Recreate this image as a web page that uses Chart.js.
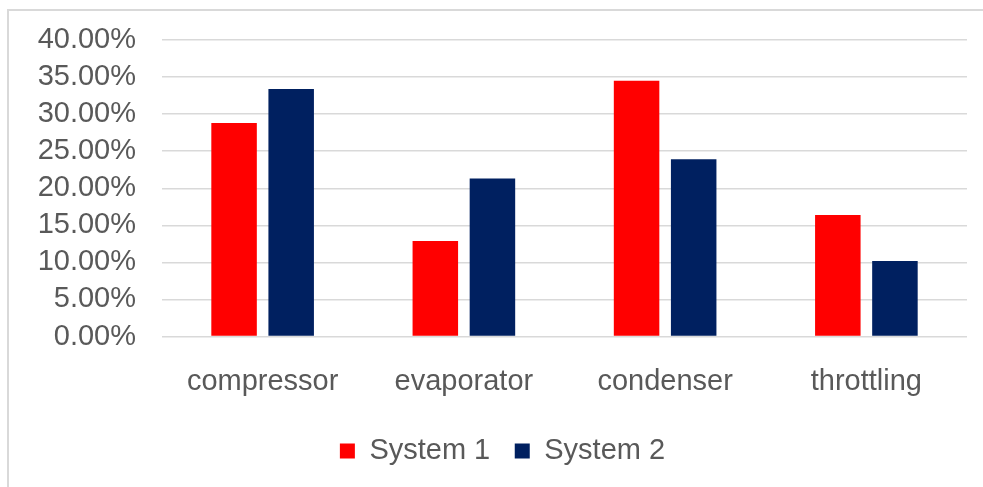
<!DOCTYPE html>
<html>
<head>
<meta charset="utf-8">
<script src="https://cdn.jsdelivr.net/npm/chart.js@4.4.1/dist/chart.umd.min.js"></script>
<style>
  html, body { margin: 0; padding: 0; background: #fff; overflow: hidden; width: 983px; height: 487px; }
  #frame { position: absolute; left: 7px; top: 9px; border-left: 2px solid #d9d9d9; border-top: 2px solid #d9d9d9; width: 1000px; height: 500px; }
  #loss { display: block; }
</style>
</head>
<body>
<div id="frame"><canvas id="loss" width="994" height="480"></canvas></div>
<script>
const components = ["compressor", "evaporator", "condenser", "throttling"];
const system1 = [0.288, 0.129, 0.345, 0.164];
const system2 = [0.334, 0.213, 0.239, 0.102];
const yTicks = [0, 0.05, 0.10, 0.15, 0.20, 0.25, 0.30, 0.35, 0.40];

// nudge the legend to the right, the original is centred on a wider frame
const legendShift = {
  id: "legendShift",
  afterLayout(chart) {
    chart.legend.left += 14.5;
    chart.legend.right += 14.5;
  },
};

showChart_loss();
function showChart_loss() {
  const ctx = document.getElementById("loss");
  const font = { family: "'Liberation Sans', Arial, sans-serif", size: 29 };
  new Chart(ctx, {
    type: "bar",
    data: {
      labels: components,
      datasets: [
        { label: "System 1", data: system1, backgroundColor: "#ff0000", borderWidth: 0 },
        { label: "System 2", data: system2, backgroundColor: "#002060", borderWidth: 0 },
      ],
    },
    options: {
      responsive: false,
      animation: false,
      categoryPercentage: 0.5675,
      barPercentage: 0.797,
      layout: { padding: { top: 29, right: 36, bottom: 15.5, left: 0 } },
      plugins: {
        tooltip: { enabled: false },
        legend: {
          position: "bottom",
          labels: { font: font, color: "#595959", boxWidth: 15, boxHeight: 15, padding: 24.5 },
        },
      },
      scales: {
        x: {
          grid: { display: false, drawTicks: false },
          border: { display: false },
          ticks: { font: font, color: "#595959", padding: 28 },
          afterFit: (s) => { s.height = 75.5; },
        },
        y: {
          min: 0,
          max: 0.4,
          afterBuildTicks: (s) => { s.ticks = yTicks.map((v) => ({ value: v })); },
          grid: { color: "#d9d9d9", lineWidth: 1.5, drawTicks: false },
          border: { display: false },
          ticks: {
            font: font,
            color: "#595959",
            padding: 26,
            autoSkip: false,
            callback: (v) => (v * 100).toFixed(2) + "%",
          },
          afterFit: (s) => {
            s.width = 153;
            s.paddingTop = 0;
            s.paddingBottom = 0;
          },
        },
      },
    },
    plugins: [legendShift],
  });
}
</script>
</body>
</html>
